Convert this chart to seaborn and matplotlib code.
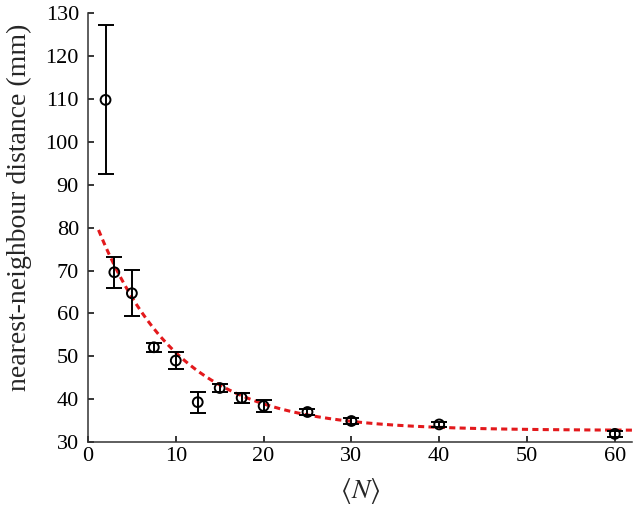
import numpy as np
import pandas as pd
import seaborn as sns
import matplotlib.pyplot as plt

# mean group size <N> and nearest-neighbour distance (mm)
n_mean = [2, 3, 5, 7.5, 10, 12.5, 15, 17.5, 20, 25, 30, 40, 60]
nnd = [109.8, 69.6, 64.7, 52.1, 49.0, 39.3, 42.6, 40.3, 38.4, 37.0, 34.9, 34.1, 31.9]
nnd_err = [17.4, 3.6, 5.4, 1.0, 1.9, 2.45, 1.0, 1.2, 1.4, 0.7, 0.7, 0.6, 0.7]

# exponential fit  a + b*exp(-N/c)
fit_a, fit_b, fit_c = 32.7, 53.2, 9.3
fit_start, fit_end = 1.2, 62

sns.set_style("ticks")
plt.rcParams['font.family'] = ['Liberation Serif', 'DejaVu Serif']
plt.rcParams['mathtext.fontset'] = 'stix'

fig = plt.figure(figsize=(6.33, 5.09), dpi=100)
ax = fig.add_axes([0.139, 0.1316, 0.86, 0.8423])

df = pd.DataFrame({'N': n_mean, 'nnd': nnd, 'err': nnd_err})

# fitted curve
xs = np.linspace(fit_start, fit_end, 300)
fit = pd.DataFrame({'N': xs, 'nnd': fit_a + fit_b * np.exp(-xs / fit_c)})
sns.lineplot(data=fit, x='N', y='nnd', ax=ax, color='#e3191c', lw=2.2,
             linestyle=(0, (2.0, 1.4)), zorder=2)

# data points with error bars
ax.errorbar(df['N'], df['nnd'], yerr=df['err'], fmt='none', ecolor='black',
            elinewidth=1.4, capsize=5.8, capthick=1.4, zorder=3)
sns.scatterplot(data=df, x='N', y='nnd', ax=ax, marker='o', s=50,
                facecolor='none', edgecolor='black', linewidth=1.4, zorder=4)

ax.set_xlim(0, 62)
ax.set_ylim(30, 130)
ax.set_xticks(range(0, 61, 10))
ax.set_yticks(range(30, 131, 10))
ax.tick_params(direction='in', length=4.3, width=1.1, labelsize=16, colors='black')
ax.tick_params(axis='y', pad=6.5)
for side in ['left', 'bottom']:
    ax.spines[side].set_linewidth(1.1)
    ax.spines[side].set_color('#333333')
sns.despine(ax=ax)

ax.set_xlabel(r'$\langle N\rangle$', fontsize=20, labelpad=7)
ax.set_ylabel('nearest-neighbour distance (mm)', fontsize=20)
ax.yaxis.set_label_coords(-0.102, 0.548)

fig.savefig('out.png', dpi=100)
